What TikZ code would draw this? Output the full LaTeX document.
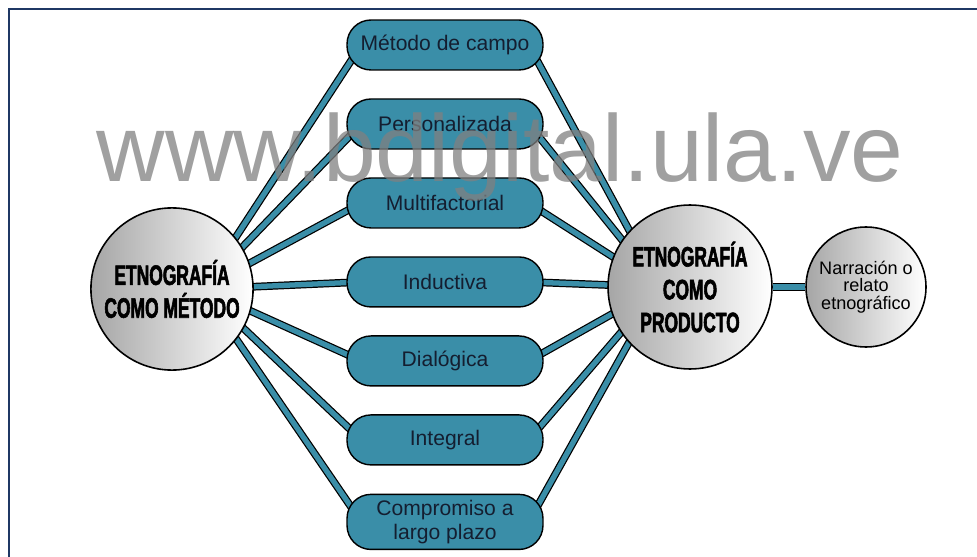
\documentclass[tikz,border=0pt]{standalone}
\usepackage{fontspec}
\setmainfont{Liberation Sans}
\newfontfamily\titlefont[FakeStretch=0.62,FakeBold=2]{Liberation Sans Bold}
\usepackage{tikz}
\usetikzlibrary{shapes,arrows,positioning,backgrounds}
\definecolor{pillteal}{RGB}{58,142,168}
\definecolor{framenavy}{RGB}{31,56,100}
\definecolor{textnavy}{RGB}{20,30,48}
\tikzstyle{pill} = [rectangle, draw, line width=0.8pt, fill=pillteal, text=textnavy,
    minimum width=3.92cm, minimum height=1cm, rounded corners=0.48cm, align=center,
    font=\fontsize{12}{13.5}\selectfont]
\tikzstyle{bigball} = [circle, draw, line width=0.9pt, left color=black!35, right color=white,
    minimum size=3.2cm, align=center, font=\titlefont\fontsize{16}{18.7}\selectfont]
\tikzstyle{smallball} = [circle, draw, line width=0.9pt, left color=black!35, right color=white,
    minimum size=2.4cm, align=center, inner sep=1pt, font=\fontsize{10.3}{9.8}\selectfont]
\tikzstyle{line} = [draw=black, line width=0.7pt, double=pillteal, double distance=3pt]

\begin{document}
\begin{tikzpicture}[x=0.02cm, y=-0.02cm, node distance=1.58cm]
    \useasboundingbox (0,0) rectangle (977,557);
    \draw [framenavy, line width=1.7pt] (9,557) -- (9,9) -- (977,9);

    % Place nodes
    \node [bigball] (metodo) at (172,289) {ETNOGRAFÍA\\COMO MÉTODO};
    \node [bigball, minimum size=3.28cm, inner sep=0pt] (producto) at (690,287) {ETNOGRAFÍA\\COMO\\PRODUCTO};
    \node [smallball] (relato) at (866,287) {Narración o\\relato\\etnográfico};

    \node [pill] (campo) at (445,45) {Método de campo};
    \node [pill, below of=campo] (personal) {Personalizada};
    \node [pill, below of=personal] (multi) {Multifactorial};
    \node [pill, below of=multi] (induct) {Inductiva};
    \node [pill, below of=induct] (dialog) {Dialógica};
    \node [pill, below of=dialog] (integral) {Integral};
    \node [pill, below of=integral, node distance=1.64cm, minimum height=1.06cm] (compromiso) {Compromiso a\\largo plazo};

    \coordinate (lhub) at ([xshift=0.6cm]metodo.center);
    \coordinate (rhub) at ([xshift=-0.6cm]producto.center);

    % Draw edges
    \begin{scope}[on background layer]
    \path [line] (lhub) -- ([xshift=0.3cm]campo.west);
    \path [line] (lhub) -- ([xshift=0.3cm]personal.west);
    \path [line] (lhub) -- ([xshift=0.3cm]multi.west);
    \path [line] (lhub) -- ([xshift=0.3cm]induct.west);
    \path [line] (lhub) -- ([xshift=0.3cm]dialog.west);
    \path [line] (lhub) -- ([xshift=0.3cm]integral.west);
    \path [line] (lhub) -- ([xshift=0.3cm]compromiso.west);
    \path [line] ([xshift=-0.3cm]campo.east) -- (rhub);
    \path [line] ([xshift=-0.3cm]personal.east) -- (rhub);
    \path [line] ([xshift=-0.3cm]multi.east) -- (rhub);
    \path [line] ([xshift=-0.3cm]induct.east) -- (rhub);
    \path [line] ([xshift=-0.3cm]dialog.east) -- (rhub);
    \path [line] ([xshift=-0.3cm]integral.east) -- (rhub);
    \path [line] ([xshift=-0.3cm]compromiso.east) -- (rhub);
    \path [line] (producto) -- (relato);
    \end{scope}

    \node (marca) [text=gray, opacity=0.75, anchor=base, font=\fontsize{54}{54}\selectfont] at (500,182) {www.bdigital.ula.ve};
\end{tikzpicture}
\end{document}
